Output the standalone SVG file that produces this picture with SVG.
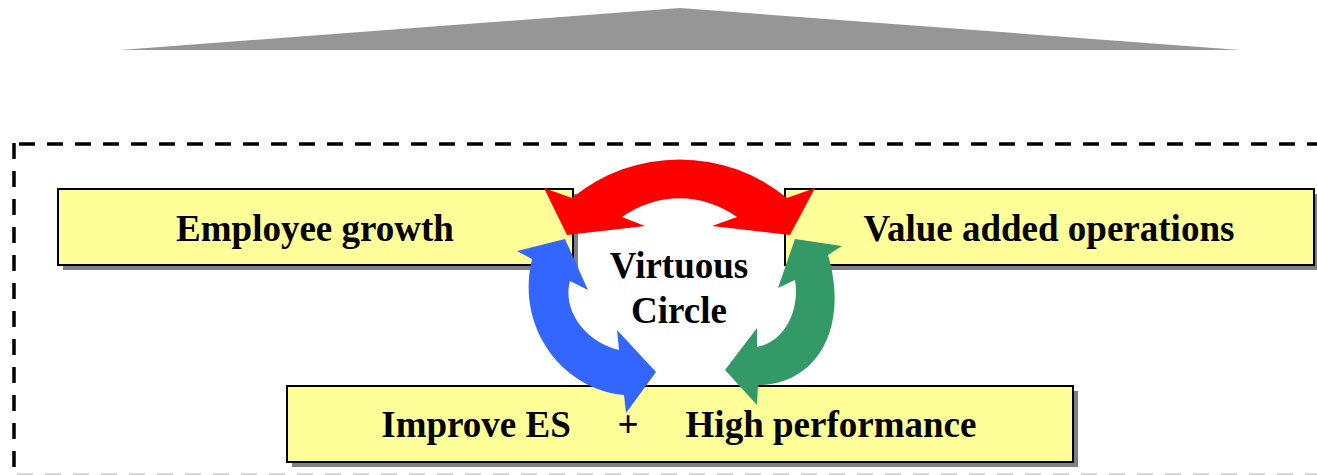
<svg xmlns="http://www.w3.org/2000/svg" width="1317" height="475" viewBox="0 0 1317 475">
<style>
.box{fill:#FFFF99;stroke:#000;stroke-width:2}
.sh{fill:#808080}
.t{font-family:"Liberation Serif","Times New Roman",serif;font-weight:bold;font-size:37px;fill:#000;text-anchor:middle}
.dash{fill:none;stroke:#000;stroke-width:3.5;stroke-dasharray:16 12}
</style>
<rect width="1317" height="475" fill="#fff"/>
<g id="triangle"><polygon points="120,50 680,8 1240,50" fill="#969696"/></g>
<g id="frame">
<path class="dash" d="M19,144 H1317"/>
<path class="dash" d="M14,143 V475"/>
<path class="dash" d="M17,475 H1317" style="stroke:#d0d0d0"/>
</g>
<g id="node-employee-growth">
<rect class="sh" x="63" y="194" width="515" height="76"/>
<rect class="box" x="58" y="189" width="515" height="76"/>
<text class="t" x="315" y="241">Employee growth</text>
</g>
<g id="node-value-added">
<rect class="sh" x="790" y="194" width="529" height="76"/>
<rect class="box" x="785" y="189" width="529" height="76"/>
<text class="t" x="1049" y="241">Value added operations</text>
</g>
<g id="node-bottom">
<rect class="sh" x="292" y="391" width="786" height="76"/>
<rect class="box" x="287" y="386" width="786" height="76"/>
<text class="t" x="476" y="437">Improve ES</text>
<text class="t" x="628" y="437">+</text>
<text class="t" x="831" y="437">High performance</text>
</g>
<g id="connectors">
<path fill="#FF0000" d="M544,188 L567,235 L645,226 L622,217 A98,98 0 0 1 737,217 L712,226 L790,235 L815,188 L787,198 A169,169 0 0 0 572,198 Z"/>
<path fill="#3366FF" d="M517,251 L565,239 L588,290 L570,281 C562,310 585,342 619,350 L617,330 L656,372 L626,413 L624,395 C565,390 515,330 532,259 Z"/>
<path fill="#339966" d="M842,246 L795,239 L778,288 L795,280 C800,310 785,342 757,347 L757,328 L725,370 L757,405 L758,385 C815,385 850,330 828,255 Z"/>
</g>
<g id="node-center">
<text class="t" x="679" y="278">Virtuous</text>
<text class="t" x="679" y="323">Circle</text>
</g>
</svg>
